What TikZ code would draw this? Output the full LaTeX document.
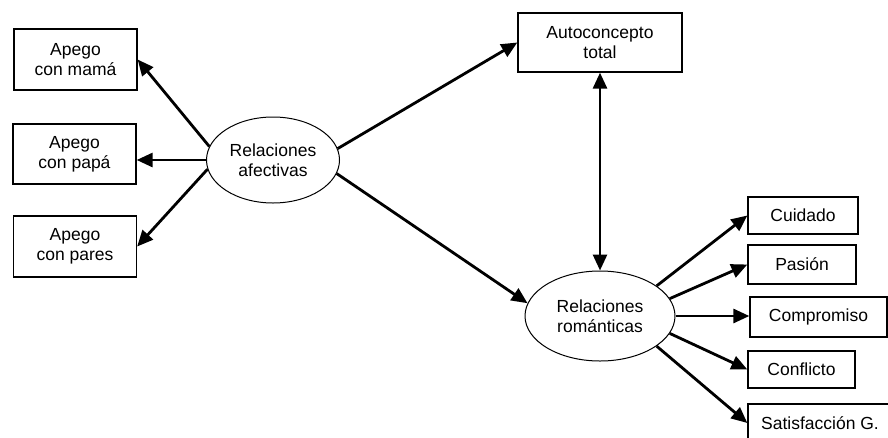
\documentclass[tikz,border=0pt]{standalone}
\usepackage{fontspec}
\setmainfont{Liberation Sans}
\usetikzlibrary{arrows.meta, shapes.geometric}

\tikzset{
  varbox/.style={draw, line width=1.3pt, align=center, inner sep=0pt},
  latent/.style={draw, ellipse, line width=1pt, align=center, inner sep=0pt},
  path arrow/.style={line width=2.8pt, -{Triangle[length=16pt,width=14pt]}},
  both arrow/.style={line width=2.8pt, {Triangle[length=16pt,width=14pt]}-{Triangle[length=16pt,width=14pt]}}
}

\begin{document}
\begin{tikzpicture}[x=1pt, y=-1pt, font=\fontsize{17.5}{20}\selectfont]
\useasboundingbox (0,0) rectangle (888,437);
\begin{scope}
\clip (0,0) rectangle (888,437);
% left side
\node[varbox, minimum width=123pt, minimum height=61pt] (mama) at (75.5,59.5) {Apego\\con mamá};
\node[varbox, minimum width=123pt, minimum height=60pt] (papa) at (74.5,154) {Apego\\con papá};
\node[varbox, minimum width=123pt, minimum height=61pt] (pares) at (75,246.5) {Apego\\con pares};
\node[latent, minimum width=133pt, minimum height=86pt] (afect) at (273,160) {Relaciones\\afectivas};
% middle
\node[varbox, minimum width=164pt, minimum height=59pt] (auto) at (600,42.5) {Autoconcepto\\total};
\node[latent, minimum width=150pt, minimum height=90pt] (roman) at (600,316) {Relaciones\\románticas};
% right side
\node[varbox, minimum width=110pt, minimum height=37pt] (cuid) at (803,215.5) {Cuidado};
\node[varbox, minimum width=108pt, minimum height=39pt] (pasion) at (802,264.5) {Pasión};
\node[varbox, minimum width=137pt, minimum height=40pt] (comp) at (818.5,317) {Compromiso};
\node[varbox, minimum width=107pt, minimum height=37pt] (confl) at (801.5,369.5) {Conflicto};
\node[varbox, minimum width=144pt, minimum height=38pt] (satis) at (820,423) {Satisfacción G.};
\end{scope}
% paths
\draw[path arrow] (afect.168) -- (mama.east);
\draw[path arrow] (afect.west) -- (afect.west -| papa.east);
\draw[path arrow] (afect.188) -- (pares.east);
\draw[path arrow] (afect.10) -- (auto.west);
\draw[path arrow] (afect.-12) -- (roman.170);
\draw[both arrow] (auto.south) -- (roman.north);
\draw[path arrow] (roman.28) -- (cuid.west);
\draw[path arrow] (roman.14) -- (pasion.west);
\draw[path arrow] (roman.east) -- (roman.east -| comp.west);
\draw[path arrow] (roman.-14) -- (confl.west);
\draw[path arrow] (roman.-28) -- (satis.west);
\end{tikzpicture}
\end{document}
